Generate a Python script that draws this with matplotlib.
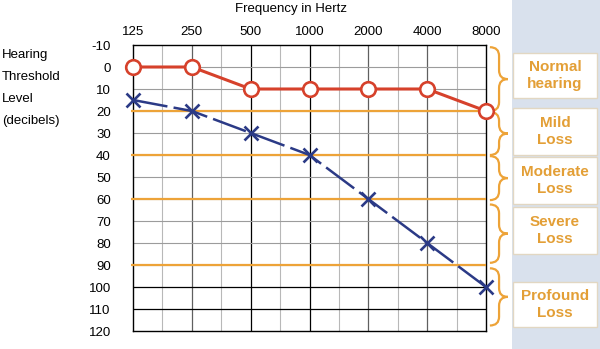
import numpy as np
import matplotlib.pyplot as plt
from matplotlib.path import Path
from matplotlib.patches import PathPatch, Rectangle
from matplotlib.ticker import NullLocator

plt.rcParams['font.family'] = ['Liberation Sans', 'DejaVu Sans']
plt.rcParams['axes.unicode_minus'] = False

# audiogram data
freqs = [125, 250, 500, 1000, 2000, 4000, 8000]
freq_labels = ['125', '250', '500', '1000', '2000', '4000', '8000']
normal_ear = [0, 0, 10, 10, 10, 10, 20]
impaired_ear = [15, 20, 30, 40, 60, 80, 100]
db_ticks = list(range(-10, 121, 10))
boundaries = [20, 40, 60, 90]
band_labels = ['Normal\nhearing', 'Mild\nLoss', 'Moderate\nLoss', 'Severe\nLoss', 'Profound\nLoss']
band_top = [-9, 20.5, 40.5, 62.5, 91.5]
band_bottom = [20, 40, 60.5, 89, 117.5]
side_label = ['Hearing', 'Threshold', 'Level', '(decibels)']

red = '#d6412b'
blue = '#2b3a86'
orange = '#eda338'
label_orange = '#e39f36'
panel = '#d9e1ed'

W, H = 600, 349
fig = plt.figure(figsize=(6, 3.49), dpi=100)
fig.add_artist(Rectangle((512 / W, 0), 88 / W, 1, transform=fig.transFigure,
                         facecolor=panel, edgecolor='none', zorder=0))

ax = fig.add_axes([133 / W, 1 - 331 / H, 353 / W, 286 / H])
ax.set_xscale('log', base=2)
ax.set_xlim(125, 8000)
ax.set_ylim(120, -10)

# grid
for f in np.sqrt(2) * np.array(freqs[:-1]):
    ax.axvline(f, color='#b8b8b8', lw=0.8, zorder=1)
for f in freqs[1:-1]:
    ax.axvline(f, color='black' if f in (500, 1000) else '#606060', lw=0.9, zorder=1)
for d in range(0, 100, 10):
    ax.axhline(d, color='#9c9c9c', lw=0.8, zorder=1)
for d in (100, 110):
    ax.axhline(d, color='black', lw=0.9, zorder=1)
for s in ax.spines.values():
    s.set_color('black')
    s.set_linewidth(1)

ax.xaxis.tick_top()
ax.set_xticks(freqs, freq_labels)
ax.xaxis.set_minor_locator(NullLocator())
ax.tick_params(axis='x', length=0, pad=5, labelsize=9.5)
ax.set_yticks(db_ticks)
ax.tick_params(axis='y', length=0, pad=16, labelsize=9.5)

# category boundaries
ax.hlines(boundaries, -0.005, 1.0, transform=ax.get_yaxis_transform(),
          colors=orange, lw=1.6, clip_on=False, zorder=3)

ax.plot(freqs, impaired_ear, color=blue, lw=1.8, ls=(0, (14, 2.5)), marker='x',
        ms=10, mew=1.9, zorder=5, clip_on=False)
ax.plot(freqs, normal_ear, color=red, lw=2.2, marker='o', ms=10.5, mfc='white',
        mec=red, mew=1.9, zorder=6, clip_on=False)

# curly braces
trans = ax.get_yaxis_transform()
x0, x1, x2, r = 1.011, 1.037, 1.062, 4
for yt, yb in zip(band_top, band_bottom):
    ym = (yt + yb) / 2
    verts = [(x0, yt), (x1, yt), (x1, yt + r), (x1, ym - r), (x1, ym), (x2, ym),
             (x1, ym), (x1, ym + r), (x1, yb - r), (x1, yb), (x0, yb)]
    codes = [Path.MOVETO, Path.CURVE3, Path.CURVE3, Path.LINETO, Path.CURVE3, Path.CURVE3,
             Path.CURVE3, Path.CURVE3, Path.LINETO, Path.CURVE3, Path.CURVE3]
    ax.add_patch(PathPatch(Path(verts, codes), transform=trans, fill=False,
                           edgecolor=orange, lw=1.6, clip_on=False, zorder=3))

# label boxes on the right
box_rows = [(53, 98), (108, 155), (157, 204), (207, 254), (282, 327)]
for txt, (y0, y1) in zip(band_labels, box_rows):
    fig.add_artist(Rectangle((513 / W, 1 - y1 / H), 84 / W, (y1 - y0) / H,
                             transform=fig.transFigure, facecolor='white',
                             edgecolor='#e2d7c2', lw=1, zorder=1))
    fig.text(555 / W, 1 - (y0 + y1) / 2 / H, txt, ha='center', va='center',
             fontsize=11, fontweight='bold', color=label_orange, linespacing=1.35, zorder=2)

fig.text(291 / W, 1 - 9 / H, 'Frequency in Hertz', ha='center', va='center', fontsize=9.5)
for txt, y in zip(side_label, [55, 77, 99, 121]):
    fig.text(2 / W, 1 - y / H, txt, ha='left', va='center', fontsize=9.5)

fig.savefig('out.png', dpi=100)
